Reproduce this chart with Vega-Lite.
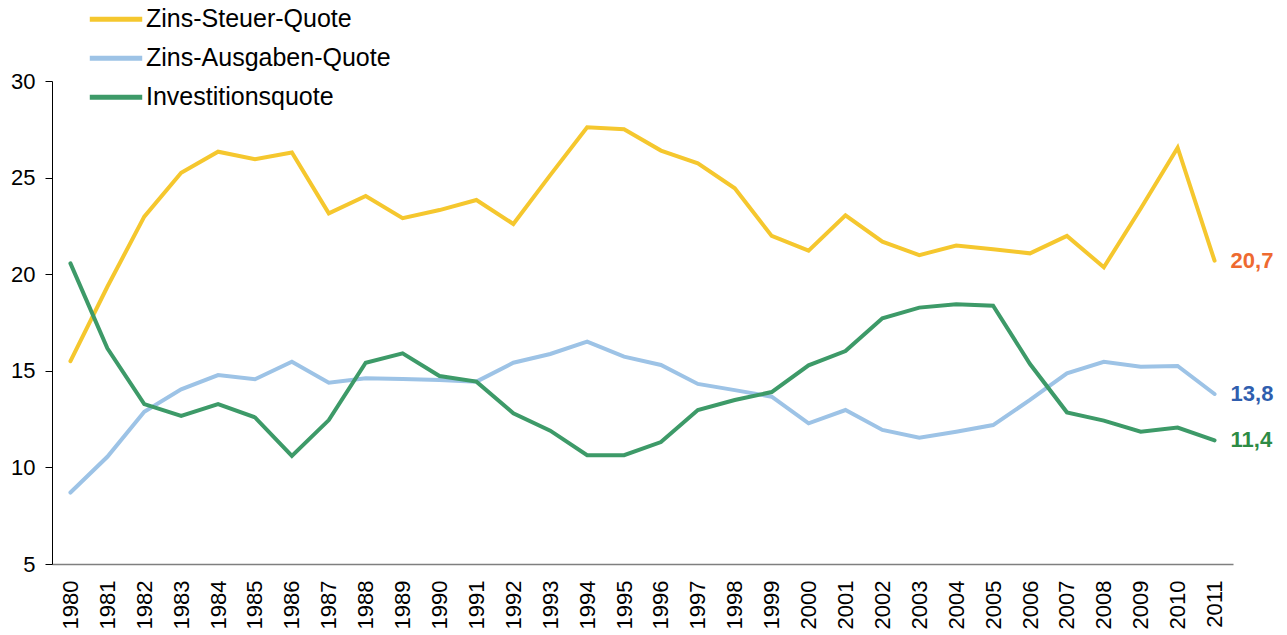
{
  "$schema": "https://vega.github.io/schema/vega-lite/v6.json",
  "autosize": "none",
  "width": 1181,
  "height": 483,
  "padding": {"left": 52, "top": 81, "right": 54, "bottom": 71},
  "background": "white",
  "config": {
    "font": "Liberation Sans",
    "view": {"stroke": null},
    "locale": {"number": {"decimal": ",", "thousands": ".", "grouping": [3], "currency": ["", " €"]}}
  },
  "data": {
    "values": [
      {"year": "1980", "Zins-Steuer-Quote": 15.5, "Zins-Ausgaben-Quote": 8.7, "Investitionsquote": 20.56},
      {"year": "1981", "Zins-Steuer-Quote": 19.35, "Zins-Ausgaben-Quote": 10.55, "Investitionsquote": 16.16},
      {"year": "1982", "Zins-Steuer-Quote": 22.98, "Zins-Ausgaben-Quote": 12.88, "Investitionsquote": 13.28},
      {"year": "1983", "Zins-Steuer-Quote": 25.25, "Zins-Ausgaben-Quote": 14.04, "Investitionsquote": 12.66},
      {"year": "1984", "Zins-Steuer-Quote": 26.34, "Zins-Ausgaben-Quote": 14.78, "Investitionsquote": 13.28},
      {"year": "1985", "Zins-Steuer-Quote": 25.95, "Zins-Ausgaben-Quote": 14.56, "Investitionsquote": 12.59},
      {"year": "1986", "Zins-Steuer-Quote": 26.3, "Zins-Ausgaben-Quote": 15.47, "Investitionsquote": 10.59},
      {"year": "1987", "Zins-Steuer-Quote": 23.15, "Zins-Ausgaben-Quote": 14.38, "Investitionsquote": 12.45},
      {"year": "1988", "Zins-Steuer-Quote": 24.05, "Zins-Ausgaben-Quote": 14.61, "Investitionsquote": 15.42},
      {"year": "1989", "Zins-Steuer-Quote": 22.9, "Zins-Ausgaben-Quote": 14.58, "Investitionsquote": 15.9},
      {"year": "1990", "Zins-Steuer-Quote": 23.32, "Zins-Ausgaben-Quote": 14.52, "Investitionsquote": 14.73},
      {"year": "1991", "Zins-Steuer-Quote": 23.84, "Zins-Ausgaben-Quote": 14.44, "Investitionsquote": 14.44},
      {"year": "1992", "Zins-Steuer-Quote": 22.6, "Zins-Ausgaben-Quote": 15.42, "Investitionsquote": 12.8},
      {"year": "1993", "Zins-Steuer-Quote": 25.13, "Zins-Ausgaben-Quote": 15.87, "Investitionsquote": 11.9},
      {"year": "1994", "Zins-Steuer-Quote": 27.6, "Zins-Ausgaben-Quote": 16.51, "Investitionsquote": 10.63},
      {"year": "1995", "Zins-Steuer-Quote": 27.5, "Zins-Ausgaben-Quote": 15.73, "Investitionsquote": 10.63},
      {"year": "1996", "Zins-Steuer-Quote": 26.4, "Zins-Ausgaben-Quote": 15.3, "Investitionsquote": 11.31},
      {"year": "1997", "Zins-Steuer-Quote": 25.74, "Zins-Ausgaben-Quote": 14.32, "Investitionsquote": 12.97},
      {"year": "1998", "Zins-Steuer-Quote": 24.45, "Zins-Ausgaben-Quote": 14.0, "Investitionsquote": 13.49},
      {"year": "1999", "Zins-Steuer-Quote": 21.98, "Zins-Ausgaben-Quote": 13.66, "Investitionsquote": 13.9},
      {"year": "2000", "Zins-Steuer-Quote": 21.22, "Zins-Ausgaben-Quote": 12.28, "Investitionsquote": 15.28},
      {"year": "2001", "Zins-Steuer-Quote": 23.05, "Zins-Ausgaben-Quote": 12.97, "Investitionsquote": 16.02},
      {"year": "2002", "Zins-Steuer-Quote": 21.68, "Zins-Ausgaben-Quote": 11.94, "Investitionsquote": 17.72},
      {"year": "2003", "Zins-Steuer-Quote": 20.99, "Zins-Ausgaben-Quote": 11.54, "Investitionsquote": 18.27},
      {"year": "2004", "Zins-Steuer-Quote": 21.48, "Zins-Ausgaben-Quote": 11.85, "Investitionsquote": 18.44},
      {"year": "2005", "Zins-Steuer-Quote": 21.29, "Zins-Ausgaben-Quote": 12.19, "Investitionsquote": 18.37},
      {"year": "2006", "Zins-Steuer-Quote": 21.08, "Zins-Ausgaben-Quote": 13.49, "Investitionsquote": 15.35},
      {"year": "2007", "Zins-Steuer-Quote": 21.98, "Zins-Ausgaben-Quote": 14.87, "Investitionsquote": 12.85},
      {"year": "2008", "Zins-Steuer-Quote": 20.36, "Zins-Ausgaben-Quote": 15.47, "Investitionsquote": 12.42},
      {"year": "2009", "Zins-Steuer-Quote": 23.4, "Zins-Ausgaben-Quote": 15.21, "Investitionsquote": 11.85},
      {"year": "2010", "Zins-Steuer-Quote": 26.55, "Zins-Ausgaben-Quote": 15.25, "Investitionsquote": 12.06},
      {"year": "2011", "Zins-Steuer-Quote": 20.7, "Zins-Ausgaben-Quote": 13.8, "Investitionsquote": 11.4}
    ]
  },
  "transform": [
    {"fold": ["Zins-Steuer-Quote", "Zins-Ausgaben-Quote", "Investitionsquote"], "as": ["series", "value"]}
  ],
  "encoding": {
    "x": {
      "field": "year", "type": "ordinal",
      "scale": {"type": "point", "padding": 0.5},
      "axis": {
        "title": null, "labelAngle": -90, "labelFontSize": 22, "labelColor": "#000000",
        "labelPadding": 16, "ticks": false, "domainColor": "#7f7f7f", "domainWidth": 1.5, "grid": false
      }
    },
    "y": {
      "field": "value", "type": "quantitative",
      "scale": {"domain": [5, 30], "nice": false, "zero": false},
      "axis": {
        "title": null, "values": [5, 10, 15, 20, 25, 30], "labelFontSize": 22, "labelColor": "#000000",
        "tickSize": 7, "tickColor": "#000000", "domainColor": "#000000", "labelPadding": 10, "grid": false
      }
    }
  },
  "layer": [
    {
      "mark": {"type": "line", "strokeWidth": 4, "strokeJoin": "miter", "strokeCap": "round"},
      "encoding": {
        "color": {
          "field": "series", "type": "nominal",
          "scale": {"domain": ["Zins-Steuer-Quote", "Zins-Ausgaben-Quote", "Investitionsquote"], "range": ["#F5C72E", "#9DC3E6", "#3D9A68"]},
          "legend": {
            "title": null, "orient": "none", "legendX": 35, "legendY": -81, "padding": 0,
            "symbolType": "stroke", "symbolSize": 2750, "symbolStrokeWidth": 5,
            "clipHeight": 38.5, "rowPadding": 0, "labelOffset": 1,
            "labelFontSize": 25, "labelColor": "#000000", "labelLimit": 400
          }
        },
        "order": {"field": "year"}
      }
    },
    {
      "transform": [{"filter": "datum.year == '2011'"}],
      "mark": {"type": "text", "align": "left", "baseline": "middle", "dx": 16, "fontSize": 22, "fontWeight": "bold"},
      "encoding": {
        "text": {"field": "value", "type": "quantitative", "format": ".1f"},
        "color": {
          "field": "series", "type": "nominal",
          "scale": {"domain": ["Zins-Steuer-Quote", "Zins-Ausgaben-Quote", "Investitionsquote"], "range": ["#EE6A30", "#2F5EAE", "#2D8B45"]},
          "legend": null
        }
      }
    }
  ],
  "resolve": {"scale": {"color": "independent"}}
}
